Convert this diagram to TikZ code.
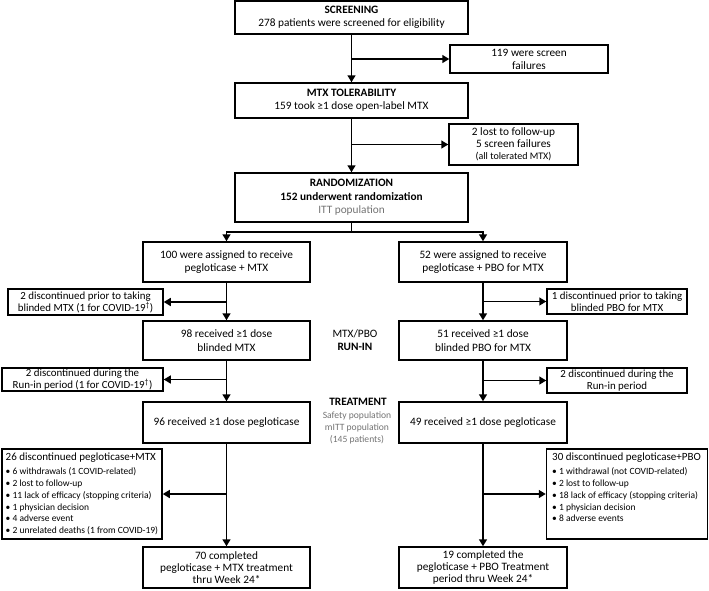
\documentclass[tikz,border=0pt]{standalone}
\usepackage{fontspec}
\setmainfont{Carlito}
\usetikzlibrary{arrows.meta}
\begin{document}
\begin{tikzpicture}[x=1pt,y=-1pt,
  box/.style={draw, line width=1.5pt, align=center, inner sep=0.5pt, font=\fontsize{11.3}{13}\selectfont},
  arr/.style={line width=1.5pt, -{Triangle[length=7pt,width=8pt]}},
  ln/.style={line width=1.5pt},
  small/.style={font=\fontsize{9.5}{11.8}\selectfont},
  narrow/.style={font=\fontsize{10.9}{12}\selectfont},
  side/.style={align=center, inner sep=0pt, font=\fontsize{11.3}{13.5}\selectfont}]
\useasboundingbox (0,0) rectangle (709,590);

% main column boxes
\node[box, minimum width=233pt, minimum height=33pt] (scr) at (351.5,17.5)
  {\textbf{SCREENING}\\278 patients were screened for eligibility};
\node[box, minimum width=158pt, minimum height=28pt] (sf) at (529,59)
  {119 were screen\\failures};
\node[box, minimum width=233pt, minimum height=35pt] (tol) at (351.5,100.5)
  {\textbf{MTX TOLERABILITY}\\159 took ≥1 dose open-label MTX};
\node[box, minimum width=129pt, minimum height=41pt, font=\fontsize{11.3}{12}\selectfont] (lost) at (513.5,144.5)
  {2 lost to follow-up\\5 screen failures\\{\fontsize{10}{12}\selectfont (all tolerated MTX)}};
\node[box, minimum width=233pt, minimum height=49pt, font=\fontsize{11.3}{13.5}\selectfont] (rand) at (351.5,197.5)
  {\textbf{RANDOMIZATION}\\\textbf{152 underwent randomization}\\{\color{black!55}ITT population}};

% arms
\node[box, minimum width=167pt, minimum height=40pt] (asgL) at (226.5,262)
  {100 were assigned to receive\\pegloticase + MTX};
\node[box, minimum width=168pt, minimum height=40pt] (asgR) at (483,262)
  {52 were assigned to receive\\pegloticase + PBO for MTX};
\node[box, narrow, minimum width=155pt, minimum height=26pt] (dpL) at (85.5,302)
  {2 discontinued prior to taking\\blinded MTX (1 for COVID-19\textsuperscript{†})};
\node[box, narrow, minimum width=140pt, minimum height=25pt] (dpR) at (617,301.5)
  {1 discontinued prior to taking\\blinded PBO for MTX};
\node[box, minimum width=167pt, minimum height=39pt, font=\fontsize{11.3}{14}\selectfont] (rcvL) at (226.5,340.5)
  {98 received ≥1 dose\\blinded MTX};
\node[box, minimum width=168pt, minimum height=39pt, font=\fontsize{11.3}{14}\selectfont] (rcvR) at (483,340.5)
  {51 received ≥1 dose\\blinded PBO for MTX};
\node[box, narrow, minimum width=161pt, minimum height=23pt, font=\fontsize{10.9}{11.5}\selectfont] (driL) at (82.5,379.5)
  {2 discontinued during the\\Run-in period (1 for COVID-19\textsuperscript{†})};
\node[box, narrow, minimum width=140pt, minimum height=25pt] (driR) at (617,380.5)
  {2 discontinued during the\\Run-in period};
\node[box, minimum width=167pt, minimum height=41pt] (pegL) at (226.5,422.5)
  {96 received ≥1 dose pegloticase};
\node[box, minimum width=168pt, minimum height=41pt] (pegR) at (483,422.5)
  {49 received ≥1 dose pegloticase};
\node[box, minimum width=160pt, minimum height=90pt] (dcL) at (82,494) {};
\node[box, minimum width=161pt, minimum height=90pt] (dcR) at (627,494) {};
\node[box, minimum width=167pt, minimum height=41pt, font=\fontsize{11.3}{12}\selectfont] (cmpL) at (226.5,567.5)
  {70 completed\\pegloticase + MTX treatment\\thru Week 24*};
\node[box, minimum width=168pt, minimum height=41pt, font=\fontsize{11.3}{12}\selectfont] (cmpR) at (483,567.5)
  {19 completed the\\pegloticase + PBO Treatment\\period thru Week 24*};

% list texts
\node[anchor=north west, align=left, inner sep=0pt, small] (dcLt) at (5.5,453)
  {{\fontsize{11}{12}\selectfont 26 discontinued pegloticase+MTX}\\[2pt]
   • 6 withdrawals (1 COVID-related)\\
   • 2 lost to follow-up\\
   • 11 lack of efficacy (stopping criteria)\\
   • 1 physician decision\\
   • 4 adverse event\\
   • 2 unrelated deaths (1 from COVID-19)};
\node[anchor=north west, align=left, inner sep=0pt, small] (dcRt) at (552,453)
  {{\fontsize{11}{12}\selectfont 30 discontinued pegloticase+PBO}\\[2pt]
   • 1 withdrawal (not COVID-related)\\
   • 2 lost to follow-up\\
   • 18 lack of efficacy (stopping criteria)\\
   • 1 physician decision\\
   • 8 adverse events};

% side labels
\node[side] (runin) at (355,340) {MTX/PBO\\\textbf{RUN-IN}};
\node[side] (treat) at (358,402) {\textbf{TREATMENT}};
\node[side, text=black!55, font=\fontsize{9.6}{12}\selectfont] (pop) at (357,428)
  {Safety population\\mITT population\\(145 patients)};

% connectors
\draw[arr] (scr) -- (tol);
\draw[arr] (scr.south |- sf.west) -- (sf.west);
\draw[arr] (tol) -- (rand);
\draw[arr] (tol.south |- lost.west) -- (lost.west);
\draw[ln] (rand.south) -- ++(0,9) coordinate (sp);
\draw[arr] (sp) -| (asgL.north);
\draw[arr] (sp) -| (asgR.north);

\draw[arr] (asgL) -- (rcvL);
\draw[arr] (asgL.south |- dpL.east) -- (dpL.east);
\draw[arr] (asgR) -- (rcvR);
\draw[arr] (asgR.south |- dpR.west) -- (dpR.west);

\draw[arr] (rcvL) -- (pegL);
\draw[arr] (rcvL.south |- driL.east) -- (driL.east);
\draw[arr] (rcvR) -- (pegR);
\draw[arr] (rcvR.south |- driR.west) -- (driR.west);

\draw[arr] (pegL) -- (cmpL);
\draw[arr] (pegL.south |- dcL.east) -- (dcL.east);
\draw[arr] (pegR) -- (cmpR);
\draw[arr] (pegR.south |- dcR.west) -- (dcR.west);
\end{tikzpicture}
\end{document}
